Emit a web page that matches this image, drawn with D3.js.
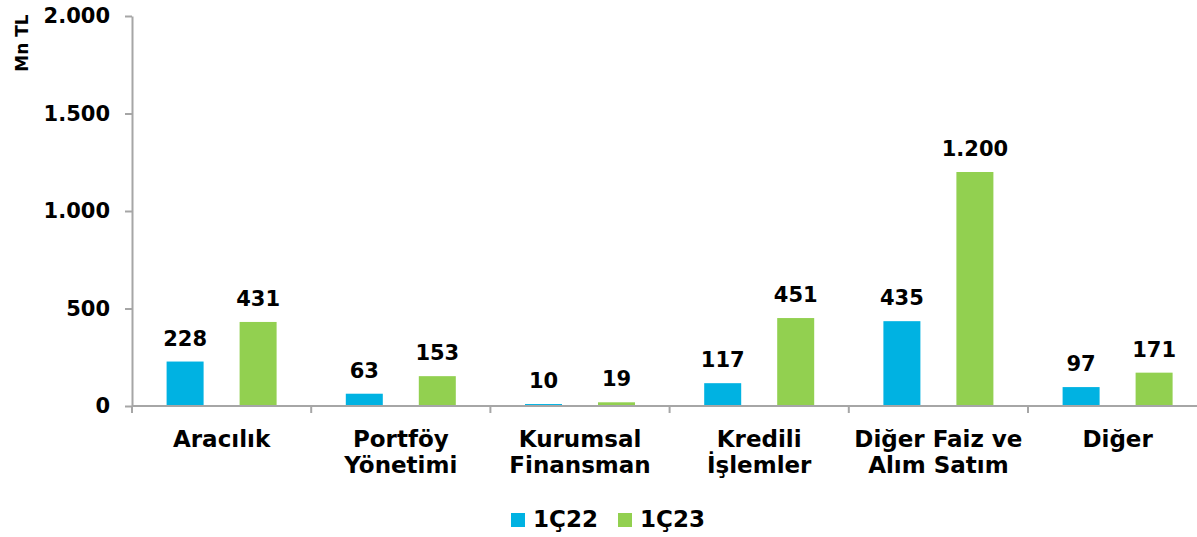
<!DOCTYPE html>
<html>
<head>
<meta charset="utf-8">
<script src="https://cdn.jsdelivr.net/npm/d3@7"></script>
<style>
	body { margin: 0; background: #fff; }
	svg { display: block; }
	text { font-family: "DejaVu Sans", Verdana, sans-serif; font-weight: bold; fill: #000; }
</style>
</head>
<body>
<svg id="container"></svg>
<script>

// data
const CATEGORIES = [['Aracılık'], ['Portföy', 'Yönetimi'], ['Kurumsal', 'Finansman'],
	['Kredili', 'İşlemler'], ['Diğer Faiz ve', 'Alım Satım'], ['Diğer']];
const SERIES = ['1Ç22', '1Ç23'];
const VALUES_22 = [228, 63, 10, 117, 435, 97];
const VALUES_23 = [431, 153, 19, 451, 1200, 171];
const Y_TICKS = [0, 500, 1000, 1500, 2000];
const COLORS = ['#00b2e2', '#92d050'];

const W = 1197, H = 537;
var svg = d3.select('#container').attr('width', W).attr('height', H);

// scales
var x = d3.scaleBand()
	.domain(d3.range(CATEGORIES.length))
	.range([132, 132 + 179.2 * 6])
	.padding(0);
var y = d3.scaleLinear().domain([0, 2000]).range([406, 16]);
var fmt = function(v) { return d3.format(',')(v).replace(/,/g, '.'); };

// y axis
var yAxis = svg.append('g')
	.attr('transform', 'translate(132,0)')
	.call(d3.axisLeft(y).tickValues(Y_TICKS).tickSize(7).tickPadding(15).tickFormat(fmt).tickSizeOuter(0));
yAxis.selectAll('text').style('font-size', '21px');
yAxis.selectAll('line, path').attr('stroke', '#a6a6a6').attr('stroke-width', 2);

svg.append('text')
	.attr('transform', 'translate(28,43) rotate(-90)')
	.attr('text-anchor', 'middle')
	.style('font-size', '17px')
	.text('Mn TL');

// bars
var groups = svg.selectAll('g.cat')
	.data(CATEGORIES)
	.enter()
	.append('g')
	.attr('class', 'cat')
	.attr('transform', function(d, i) { return 'translate(' + (x(i) + x.bandwidth() / 2) + ',0)'; });

var BAR_W = 37, OFF = 36.5;
[VALUES_22, VALUES_23].forEach(function(vals, s) {
	var dx = s == 0 ? -OFF : OFF;
	groups.append('rect')
		.attr('x', dx - BAR_W / 2)
		.attr('y', function(d, i) { return y(vals[i]); })
		.attr('width', BAR_W)
		.attr('height', function(d, i) { return y(0) - y(vals[i]); })
		.attr('fill', COLORS[s]);
	groups.append('text')
		.attr('x', dx)
		.attr('y', function(d, i) { return y(vals[i]) - 16; })
		.attr('text-anchor', 'middle')
		.style('font-size', '21px')
		.text(function(d, i) { return fmt(vals[i]); });
});

// x axis
var xAxis = svg.append('g').attr('transform', 'translate(0,406)');
xAxis.append('line')
	.attr('x1', 132).attr('x2', W)
	.attr('stroke', '#a6a6a6').attr('stroke-width', 2);
xAxis.selectAll('line.tick')
	.data(d3.range(CATEGORIES.length + 1))
	.enter()
	.append('line')
	.attr('class', 'tick')
	.attr('x1', function(d) { return 132 + d * x.bandwidth(); })
	.attr('x2', function(d) { return 132 + d * x.bandwidth(); })
	.attr('y1', 0).attr('y2', 7)
	.attr('stroke', '#a6a6a6').attr('stroke-width', 2);

groups.append('text')
	.attr('text-anchor', 'middle')
	.style('font-size', '23px')
	.selectAll('tspan')
	.data(function(d) { return d; })
	.enter()
	.append('tspan')
	.attr('x', 0)
	.attr('y', function(d, i) { return 447 + i * 26; })
	.text(function(d) { return d; });

// legend
var legend = svg.selectAll('g.legend')
	.data(SERIES)
	.enter()
	.append('g')
	.attr('class', 'legend')
	.attr('transform', function(d, i) { return 'translate(' + (511 + i * 107) + ',513)'; });
legend.append('rect')
	.attr('width', 14).attr('height', 14)
	.attr('fill', function(d, i) { return COLORS[i]; });
legend.append('text')
	.attr('x', 22).attr('y', 14)
	.style('font-size', '23px')
	.text(function(d) { return d; });

</script>
</body>
</html>
